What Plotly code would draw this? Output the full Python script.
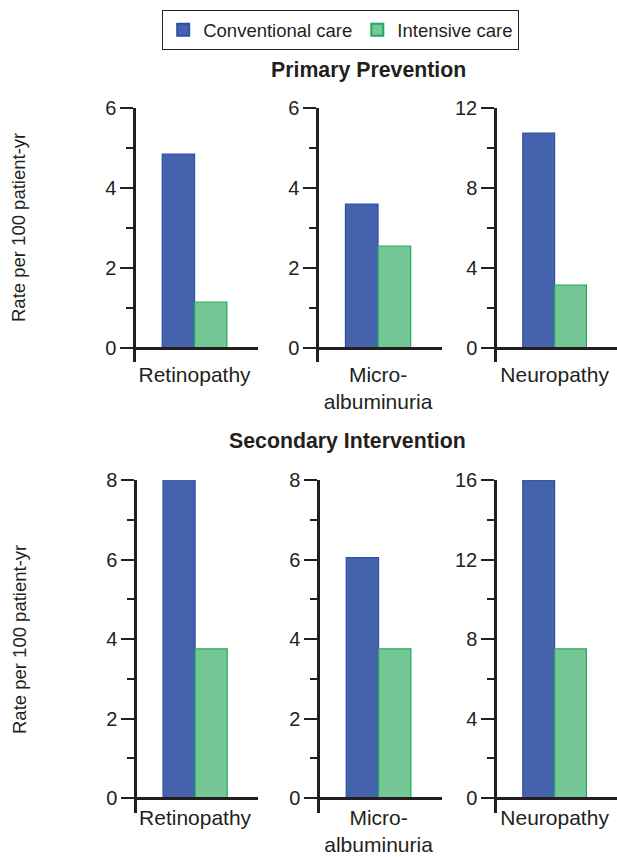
import plotly.graph_objects as go

W, H = 617, 857

# ---------------- data ----------------
categories = ["Retinopathy", "Micro-<br>albuminuria", "Neuropathy"]
series_names = ["Conventional care", "Intensive care"]
primary_conventional = [4.85, 3.6, 10.75]
primary_intensive = [1.15, 2.55, 3.15]
secondary_conventional = [8.05, 6.05, 16.0]
secondary_intensive = [3.75, 3.75, 7.5]
primary_ymax = [6, 6, 12]
primary_dtick = [2, 2, 4]
secondary_ymax = [8, 8, 16]
secondary_dtick = [2, 2, 4]
row_titles = ["Primary Prevention", "Secondary Intervention"]
y_title = "Rate per 100 patient-yr"

# ---------------- style ----------------
FONT = "Arial, 'Liberation Sans', Helvetica, sans-serif"
INK = "#231f20"
BLUE = "#4563ac"
BLUE_EDGE = "#2b4fa6"
GREEN = "#75c796"
GREEN_EDGE = "#22a95e"

def px_x(p):
    return p / W

def px_y(p):
    return 1 - p / H

# pixel layout: (x0, x1) for each column; (top, zero, bottom) for each row
cols_top = [(136, 258), (319, 442), (497, 617)]
cols_bot = [(137, 258), (320, 442), (497, 617)]
rows = [
    dict(top=108, zero=348, bottom=362, ymax=primary_ymax, dtick=primary_dtick,
         conv=primary_conventional, inten=primary_intensive, cols=cols_top, lab=7),
    dict(top=480, zero=798, bottom=813, ymax=secondary_ymax, dtick=secondary_dtick,
         conv=secondary_conventional, inten=secondary_intensive, cols=cols_bot, lab=0),
]

fig = go.Figure()
layout = {}
k = 0
for r, row in enumerate(rows):
    for c in range(3):
        k += 1
        xa = "x" if k == 1 else f"x{k}"
        ya = "y" if k == 1 else f"y{k}"
        ymax = row["ymax"][c]
        upp = (row["zero"] - row["top"]) / ymax  # px per unit
        ymin = -(row["bottom"] - row["zero"]) / upp
        ydom = [px_y(row["bottom"]), px_y(row["top"])]
        zero_paper = ydom[0] + (0 - ymin) / (ymax - ymin) * (ydom[1] - ydom[0])
        x0, x1 = row["cols"][c]
        layout[f"xaxis{k}"] = dict(
            domain=[px_x(x0), px_x(x1)], anchor="free", position=zero_paper,
            type="category", range=[-0.48, 0.52], automargin=False,
            showline=True, linecolor=INK, linewidth=2.5,
            ticks="outside", ticklen=row["lab"], tickcolor="rgba(0,0,0,0)",
            tickfont=dict(family=FONT, size=21, color=INK),
            showgrid=False, zeroline=False, fixedrange=True,
        )
        layout[f"yaxis{k}"] = dict(
            domain=ydom, anchor=xa, range=[ymin, ymax], automargin=False,
            tickmode="linear", tick0=0, dtick=row["dtick"][c],
            showline=True, linecolor=INK, linewidth=2.5,
            ticks="outside", ticklen=13, tickwidth=1.5, tickcolor=INK,
            minor=dict(ticks="outside", ticklen=7, tickwidth=1.5, tickcolor=INK,
                       tickmode="linear", tick0=0, dtick=row["dtick"][c] / 2,
                       showgrid=False),
            tickfont=dict(family=FONT, size=20, color=INK),
            showgrid=False, zeroline=False, fixedrange=True,
        )
        fig.add_trace(go.Bar(
            x=[categories[c]], y=[row["conv"][c]], name=series_names[0],
            marker=dict(color=BLUE, line=dict(color=BLUE_EDGE, width=1.2)),
            xaxis=xa, yaxis=ya, legendgroup="conv", showlegend=(k == 1),
        ))
        fig.add_trace(go.Bar(
            x=[categories[c]], y=[row["inten"][c]], name=series_names[1],
            marker=dict(color=GREEN, line=dict(color=GREEN_EDGE, width=1.2)),
            xaxis=xa, yaxis=ya, legendgroup="int", showlegend=(k == 1),
        ))

annotations = [
    dict(text=f"<b>{row_titles[0]}</b>", x=px_x(368), y=px_y(70), xref="paper", yref="paper",
         xanchor="center", yanchor="middle",
         showarrow=False, font=dict(family=FONT, size=21.3, color=INK)),
    dict(text=f"<b>{row_titles[1]}</b>", x=px_x(348), y=px_y(441), xref="paper", yref="paper",
         xanchor="center", yanchor="middle",
         showarrow=False, font=dict(family=FONT, size=21.3, color=INK)),
    dict(text=y_title, x=px_x(19), y=px_y(228), xref="paper", yref="paper", textangle=-90,
         xanchor="center", yanchor="middle",
         showarrow=False, font=dict(family=FONT, size=18.5, color=INK)),
    dict(text=y_title, x=px_x(19), y=px_y(640), xref="paper", yref="paper", textangle=-90,
         xanchor="center", yanchor="middle",
         showarrow=False, font=dict(family=FONT, size=18.5, color=INK)),
]

fig.update_layout(
    width=W, height=H,
    margin=dict(l=0, r=0, t=0, b=0, autoexpand=False),
    paper_bgcolor="white", plot_bgcolor="rgba(0,0,0,0)",
    barmode="group", bargap=0.47, bargroupgap=0,
    showlegend=True,
    legend=dict(orientation="h", x=px_x(162), y=px_y(10), xanchor="left", yanchor="top",
                bordercolor=INK, borderwidth=1.2, bgcolor="white",
                font=dict(family=FONT, size=18.5, color=INK),
                traceorder="normal", itemsizing="constant"),
    annotations=annotations,
    **layout,
)

fig.write_html("out.html", config={"displayModeBar": False},
               post_script="document.body.style.margin='0';document.body.style.overflow='hidden';")
